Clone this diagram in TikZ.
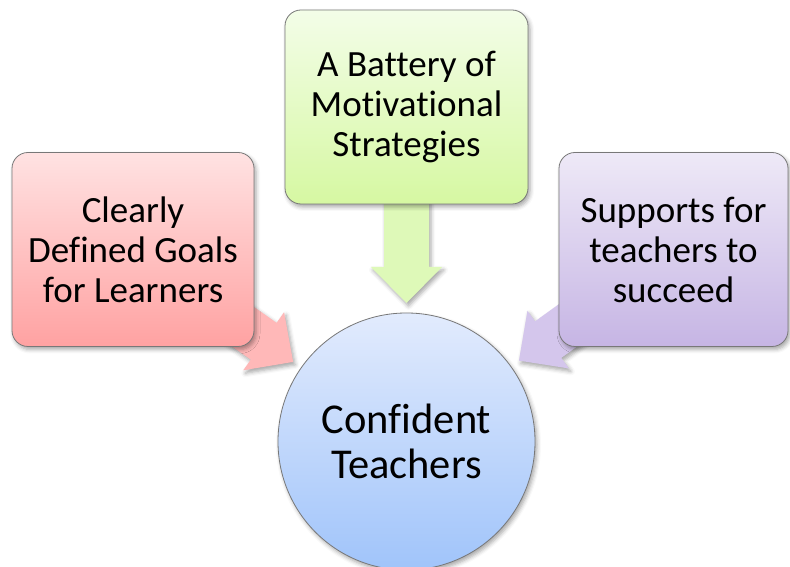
\documentclass[tikz,border=0pt]{standalone}
\usepackage{fontspec}
\setmainfont{Carlito}[Ligatures=NoCommon]
\usetikzlibrary{calc,shadows.blur}
\pgfdeclarelayer{background}
\pgfsetlayers{background,main}

\definecolor{redtop}{RGB}{255,226,226}
\definecolor{redbot}{RGB}{255,162,162}
\definecolor{redarrow}{RGB}{255,184,184}
\definecolor{greentop}{RGB}{243,253,232}
\definecolor{greenbot}{RGB}{214,248,162}
\definecolor{greenarrow}{RGB}{222,249,184}
\definecolor{purptop}{RGB}{238,233,247}
\definecolor{purpbot}{RGB}{198,181,228}
\definecolor{purparrow}{RGB}{212,198,236}
\definecolor{bluetop}{RGB}{226,235,253}
\definecolor{bluebot}{RGB}{160,196,250}
\definecolor{edgegray}{RGB}{120,120,120}

\tikzset{
  softshadow/.style={blur shadow={shadow xshift=2pt, shadow yshift=-3pt,
      shadow blur radius=4pt, shadow opacity=35}},
  goalbox/.style={draw=edgegray, line width=0.8pt, rounded corners=16pt,
      minimum height=194pt, align=center, inner sep=0pt,
      font=\fontsize{37}{40}\selectfont, softshadow},
  hub/.style={circle, draw=edgegray, line width=0.8pt, minimum size=257pt,
      align=center, inner sep=0pt, top color=bluetop, bottom color=bluebot,
      font=\fontsize{42.5}{45}\selectfont, softshadow},
  % block arrow from the start point to the tip, shaft 45pt, head 71pt x 36pt
  blockarrow/.style={softshadow, to path={
      let \p1=(\tikztostart), \p2=(\tikztotarget),
          \n1={atan2(\y2-\y1,\x2-\x1)} in
      ($(\p1)+({\n1+90}:22.5pt)$)
      -- ($(\p2)+({\n1+180}:36pt)+({\n1+90}:22.5pt)$)
      -- ($(\p2)+({\n1+180}:36pt)+({\n1+90}:35.5pt)$)
      -- (\p2)
      -- ($(\p2)+({\n1+180}:36pt)+({\n1-90}:35.5pt)$)
      -- ($(\p2)+({\n1+180}:36pt)+({\n1-90}:22.5pt)$)
      -- ($(\p1)+({\n1-90}:22.5pt)$) -- cycle}}
}

\begin{document}
\begin{tikzpicture}[x=1pt, y=1pt]
  \useasboundingbox (0,0) rectangle (790,567);

  % the three factors
  \node[goalbox, minimum width=242pt, top color=redtop, bottom color=redbot]
    (goals) at (133,317.5) {Clearly\\Defined Goals\\for Learners};
  \node[goalbox, minimum width=243pt, top color=greentop, bottom color=greenbot]
    (strategies) at (406.5,460) {A Battery of\\Motivational\\Strategies};
  \node[goalbox, minimum width=229pt, top color=purptop, bottom color=purpbot]
    (supports) at (673.5,317.5) {Supports for\\teachers to\\succeed};

  % the outcome
  \node[hub] (teachers) at (406.5,125.5) {Confident\\Teachers};

  % arrow tips stop just short of the circle
  \coordinate (goalstip) at ($(teachers.center)!138.5pt!(goals.center)$);
  \coordinate (strattip) at ($(teachers.center)!138.5pt!(strategies.center)$);
  \coordinate (supptip) at ($(teachers.center)!138.5pt!(supports.center)$);

  \begin{pgfonlayer}{background}
    \path[blockarrow, fill=redarrow] (goals.center) to (goalstip);
    \path[blockarrow, fill=greenarrow] (strategies.center) to (strattip);
    \path[blockarrow, fill=purparrow] (supports.center) to (supptip);
  \end{pgfonlayer}
\end{tikzpicture}
\end{document}
